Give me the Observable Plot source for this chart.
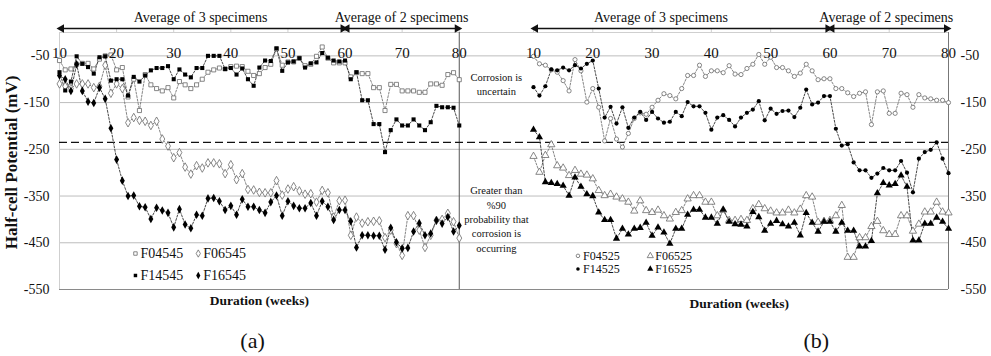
<!DOCTYPE html>
<html><head><meta charset="utf-8">
<script src="https://cdn.jsdelivr.net/npm/d3@7"></script>
<script src="https://cdn.jsdelivr.net/npm/@observablehq/plot@0.6"></script>
<style>
body{margin:0;background:#fff;}
#wrap{position:relative;width:991px;height:356px;}
#wrap svg{position:absolute;left:0;top:0;}
#wrap svg text{font-family:"Liberation Serif","Times New Roman",serif;}
</style></head><body><div id="wrap"></div>
<script>
// ---------- data (weeks 10..80) ----------
const weeks = d3.range(10, 81);

const F04545 = [-60,-80,-78,-68,-66,-66,-78,-57,-50,-48,
 -80,-75,-138,-100,-167,-90,-112,-120,-125,-118,
 -140,-105,-112,-120,-112,-100,-85,-80,-76,-78,
 -73,-72,-73,-83,-92,-88,-75,-68,-35,-70,
 -63,-63,-55,-71,-68,-51,-31,-55,-65,-65,
 -65,-95,-86,-88,-88,-118,-118,-167,-111,-111,
 -125,-125,-125,-128,-128,-110,-110,-113,-90,-86,
 -101];
const F06545 = [-110,-115,-120,-110,-110,-110,-118,-115,-70,-130,
 -110,-120,-193,-182,-188,-190,-199,-190,-228,-243,
 -268,-257,-288,-303,-285,-290,-279,-279,-281,-302,
 -283,-315,-302,-336,-337,-342,-343,-343,-317,-348,
 -335,-330,-339,-346,-345,-363,-338,-343,-395,-360,
 -359,-434,-395,-408,-405,-404,-403,-439,-423,-452,
 -477,-392,-392,-423,-460,-434,-402,-400,-387,-405,
 -440];
const F14545 = [-85,-124,-105,-51,-67,-74,-88,-53,-51,-103,
 -100,-100,-135,-95,-105,-92,-81,-76,-76,-72,
 -100,-79,-90,-96,-76,-76,-50,-50,-50,-78,
 -76,-90,-77,-100,-114,-75,-60,-61,-34,-82,
 -64,-62,-55,-75,-66,-64,-44,-54,-60,-62,
 -60,-100,-85,-145,-145,-196,-196,-256,-209,-186,
 -199,-199,-186,-199,-209,-192,-157,-160,-160,-161,
 -199];
const F16545 = [-92,-100,-125,-68,-125,-148,-151,-118,-142,-205,
 -272,-317,-350,-349,-372,-374,-399,-375,-381,-386,
 -417,-378,-411,-419,-390,-392,-355,-354,-361,-380,
 -371,-390,-357,-373,-373,-380,-386,-363,-349,-392,
 -361,-371,-376,-376,-365,-392,-361,-373,-401,-380,
 -380,-404,-460,-434,-434,-435,-435,-465,-418,-449,
 -462,-461,-426,-408,-434,-430,-402,-409,-395,-426,
 -413];

const F04525 = [-51,-67,-70,-80,-85,-103,-125,-58,-82,-149,
 -120,-160,-232,-184,-228,-245,-216,-184,-172,-175,
 -160,-145,-131,-135,-142,-120,-92,-92,-70,-94,
 -82,-82,-86,-71,-89,-90,-77,-68,-47,-68,
 -53,-75,-75,-82,-94,-87,-68,-82,-101,-99,
 -99,-120,-120,-129,-137,-130,-127,-197,-127,-125,
 -173,-173,-130,-133,-160,-133,-140,-142,-145,-145,
 -150];
const F06525 = [-265,-299,-263,-240,-285,-290,-306,-295,-303,-305,
 -313,-338,-349,-346,-352,-356,-363,-382,-360,-381,
 -385,-380,-392,-399,-385,-381,-356,-349,-349,-363,
 -363,-392,-380,-402,-402,-400,-402,-377,-368,-377,
 -382,-386,-386,-380,-386,-378,-349,-352,-406,-404,
 -402,-392,-370,-481,-481,-439,-439,-415,-404,-424,
 -432,-432,-392,-392,-425,-410,-384,-384,-363,-384,
 -386];
const F14525 = [-117,-135,-115,-79,-81,-75,-81,-70,-77,-67,
 -60,-120,-182,-159,-195,-160,-204,-182,-170,-187,
 -170,-184,-193,-191,-170,-179,-149,-158,-158,-172,
 -208,-182,-177,-187,-201,-182,-172,-165,-147,-188,
 -163,-174,-168,-167,-181,-161,-122,-154,-150,-136,
 -136,-206,-242,-239,-278,-295,-295,-311,-302,-290,
 -295,-295,-275,-300,-342,-270,-256,-251,-235,-270,
 -301];
const F16525 = [-208,-224,-320,-322,-324,-328,-349,-310,-330,-346,
 -350,-385,-401,-401,-441,-420,-432,-420,-418,-407,
 -435,-417,-428,-452,-420,-420,-390,-379,-379,-396,
 -396,-409,-379,-405,-410,-411,-415,-384,-395,-424,
 -409,-403,-410,-415,-407,-434,-386,-407,-426,-405,
 -405,-426,-407,-424,-424,-458,-458,-446,-344,-322,
 -327,-324,-306,-330,-445,-445,-409,-409,-396,-405,
 -420];

const xTicks = [10,20,30,40,50,60,70,80];
const yTicks = [-50,-150,-250,-350,-450,-550];
const gridLines = [-50,-150,-250,-350,-450];
const threshold = -235;
const spanLabels = ["Average of 3 specimens","Average of 2 specimens"];
const spanWeeks = [[10,60],[60,80]];
const noteUncertain = "Corrosion is\nuncertain";
const noteCorroding = "Greater than\n%90\nprobability that\ncorrosion is\noccurring";
const yLabel = "Half-cell Potential (mV)";
const xLabel = "Duration (weeks)";

const seriesA = [
  {name:"F04545", values:F04545, symbol:"square",  fill:"white"},
  {name:"F06545", values:F06545, symbol:"diamond", fill:"white"},
  {name:"F14545", values:F14545, symbol:"square",  fill:"black"},
  {name:"F16545", values:F16545, symbol:"diamond", fill:"black"}
];
const seriesB = [
  {name:"F04525", values:F04525, symbol:"circle",   fill:"white"},
  {name:"F06525", values:F06525, symbol:"triangle", fill:"white"},
  {name:"F14525", values:F14525, symbol:"circle",   fill:"black"},
  {name:"F16525", values:F16525, symbol:"triangle", fill:"black"}
];

// ---------- helpers ----------
const FONT = "Liberation Serif";
function rows(s){ return weeks.map((w,i)=>({week:w, v:s.values[i], s:s.name})); }
function sizeOf(sym){ return sym==="circle"?2.1:sym==="triangle"?2.7:sym==="diamond"?2.6:2.3; }

function seriesMarks(series){
  const m = [];
  for (const s of series) {
    const open = s.fill === "white";
    m.push(Plot.line(rows(s), {x:"week", y:"v", stroke: open?"#777":"#333", strokeWidth:0.9, strokeDasharray:"2,1.6"}));
  }
  for (const s of series) {
    const open = s.fill === "white";
    m.push(Plot.dot(rows(s), {x:"week", y:"v", symbol:s.symbol, r:sizeOf(s.symbol),
      fill:s.fill, stroke: open?"#6a6a6a":"none", strokeWidth:0.8}));
  }
  return m;
}
function legendMarks(series, cols, rowsY, fs){
  const L = series.map((s,i)=>({x:cols[i%2], y:rowsY[Math.floor(i/2)], ...s}));
  const m = [];
  for (const d of L) {
    m.push(Plot.dot([d], {x:"x", y:"y", symbol:d.symbol, r:sizeOf(d.symbol)*0.85,
      fill:d.fill, stroke:d.fill==="white"?"#6a6a6a":"none", strokeWidth:0.8}));
  }
  m.push(Plot.text(L, {x:"x", y:"y", text:"name", dx:5, textAnchor:"start", fontSize:fs, fontFamily:FONT, fill:"#111"}));
  return m;
}
function spanMarks(){
  const segs = spanWeeks.map((w,i)=>({a:w[0], b:w[1], label:spanLabels[i]}));
  return [
    Plot.ruleY(segs, {x1:"a", x2:"b", y:8.6, stroke:"#111", strokeWidth:1.6}),
    Plot.dot(segs, {x:"a", y:8.6, symbol:"triangle", rotate:-90, r:3.2, fill:"#111", stroke:"none", dx:2}),
    Plot.dot(segs, {x:"b", y:8.6, symbol:"triangle", rotate:90, r:3.2, fill:"#111", stroke:"none", dx:-2})
  ];
}
const T = (data, o) => Plot.text(data, {fontFamily:FONT, fill:"#111", ...o});

// ---------- panel (a) ----------
const plotA = Plot.plot({
  width:991, height:356, marginLeft:59, marginRight:458, marginTop:32, marginBottom:67,
  style:{fontFamily:FONT, background:"transparent"},
  x:{domain:[10,93], axis:null},
  y:{domain:[-550,0], axis:null},
  marks:[
    Plot.ruleY(gridLines, {stroke:"#bdbdbd"}),
    Plot.ruleY([0], {stroke:"#cfcfcf"}),
    Plot.ruleY([-550], {stroke:"#8a8a8a", strokeWidth:1.2}),
    Plot.ruleX([10], {y1:-550, y2:0, stroke:"#cfcfcf"}),
    Plot.ruleX(xTicks.slice(1), {y1:0, y2:8, stroke:"#d0d0d0"}),
    Plot.ruleX([80], {y1:-550, y2:0, stroke:"#555"}),
    Plot.ruleY([threshold], {stroke:"#111", strokeWidth:1.3, strokeDasharray:"8,4"}),
    ...seriesMarks(seriesA),
    T(xTicks, {x:d=>d, y:-45, text:d=>String(d), fontSize:15}),
    T(yTicks, {x:10, y:d=>d, text:d=>String(d), dx:-10, textAnchor:"end", fontSize:14}),
    T([yLabel], {x:1.6, y:-278, text:d=>d, rotate:-90, fontSize:17, fontWeight:"bold"}),
    T([xLabel], {x:45, y:-574, text:d=>d, fontSize:13.5, fontWeight:"bold"}),
    T(["(a)"], {x:43.8, y:-660, text:d=>d, fontSize:22}),
    T([noteUncertain], {x:86.5, y:-109, text:d=>d, fontSize:10.5, lineHeight:1.35}),
    T([noteCorroding], {x:86.5, y:-398, text:d=>d, fontSize:10.5, lineHeight:1.36}),
    ...spanMarks(),
    T(spanLabels, {x:[34.7, 69.9], y:32, text:d=>d, fontSize:14}),
    ...legendMarks(seriesA, [23.3, 34.3], [-473, -520], 14)
  ]
});

// ---------- panel (b) ----------
const plotB = Plot.plot({
  width:991, height:356, marginLeft:533, marginRight:43, marginTop:32, marginBottom:67,
  style:{fontFamily:FONT, background:"transparent"},
  x:{domain:[10,80], axis:null},
  y:{domain:[-550,0], axis:null},
  marks:[
    Plot.ruleY(gridLines, {stroke:"#bdbdbd"}),
    Plot.ruleY([0], {stroke:"#cfcfcf"}),
    Plot.ruleY([-550], {stroke:"#8a8a8a", strokeWidth:1.2}),
    Plot.ruleX(xTicks.slice(0,-1), {y1:0, y2:8, stroke:"#d0d0d0"}),
    Plot.ruleX([80], {y1:-550, y2:0, stroke:"#777"}),
    Plot.ruleY([threshold], {stroke:"#111", strokeWidth:1.3, strokeDasharray:"8,4"}),
    ...seriesMarks(seriesB),
    T(xTicks, {x:d=>d, y:-45, text:d=>String(d), fontSize:15}),
    T(yTicks, {x:80, y:d=>d, text:d=>String(d), dx:12, textAnchor:"start", fontSize:14}),
    T([xLabel], {x:44.7, y:-580, text:d=>d, fontSize:13.5, fontWeight:"bold"}),
    T(["(b)"], {x:57.7, y:-660, text:d=>d, fontSize:22}),
    ...spanMarks(),
    T(spanLabels, {x:[31.5, 69.5], y:32, text:d=>d, fontSize:14}),
    ...legendMarks(seriesB, [17.5, 29.7], [-478, -506], 12)
  ]
});

const wrap = document.getElementById("wrap");
wrap.appendChild(plotA);
wrap.appendChild(plotB);
</script>
</body></html>
